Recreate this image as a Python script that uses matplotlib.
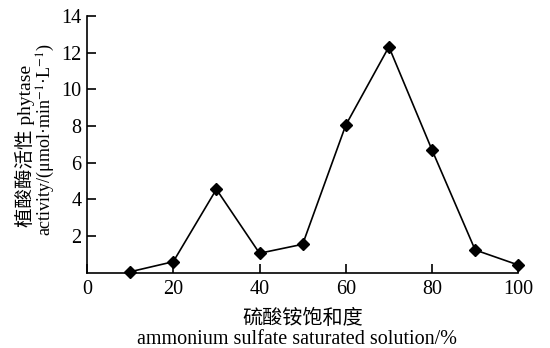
import matplotlib
matplotlib.use("Agg")
import matplotlib.pyplot as plt

saturation = [10, 20, 30, 40, 50, 60, 70, 80, 90, 100]
activity = [0.05, 0.6, 4.55, 1.06, 1.55, 8.05, 12.32, 6.69, 1.24, 0.42]
xticks = [0, 20, 40, 60, 80, 100]
yticks = [2, 4, 6, 8, 10, 12, 14]

FAM = ['Liberation Serif', 'Noto Sans CJK SC', 'DejaVu Serif']
plt.rcParams['font.family'] = FAM
plt.rcParams['mathtext.fontset'] = 'stix'
FS = 14.5

fig = plt.figure(figsize=(5.5, 3.48), dpi=100)
ax = fig.add_axes([87/550, 1 - 272.7/348, (518.3 - 87)/550, (272.7 - 16)/348])

ax.plot(saturation, activity, color='black', lw=1.2, marker='D', ms=6.5,
        mfc='black', mec='black', clip_on=False, zorder=3)

ax.set_xlim(0, 100)
ax.set_ylim(0, 14)
ax.set_xticks(xticks)
ax.set_yticks(yticks)
ax.set_xticklabels([str(v) for v in xticks], fontsize=FS)
ax.set_yticklabels([str(v) for v in yticks], fontsize=FS)
ax.tick_params(axis='both', direction='in', length=6.5, width=1.2, color='black')
ax.tick_params(axis='x', pad=5)
ax.tick_params(axis='y', pad=4)
ax.spines['top'].set_visible(False)
ax.spines['right'].set_visible(False)
ax.spines['left'].set_linewidth(1.2)
ax.spines['bottom'].set_linewidth(1.2)

fig.text(303/550, 1 - 319/348, '硫酸铵饱和度', ha='center', va='center', fontsize=FS)
fig.text(297/550, 1 - 339/348, 'ammonium sulfate saturated solution/%', ha='center', va='center', fontsize=FS)

fig.text(25/550, 1 - 146/348, '植酸酶活性 phytase', ha='center', va='center', rotation=90, fontsize=14)
fig.text(46/550, 1 - 140/348, r'activity/(μmol·min$^{-1}$·L$^{-1}$)', ha='center', va='center', rotation=90, fontsize=13)

fig.savefig('out.png', dpi=100)
